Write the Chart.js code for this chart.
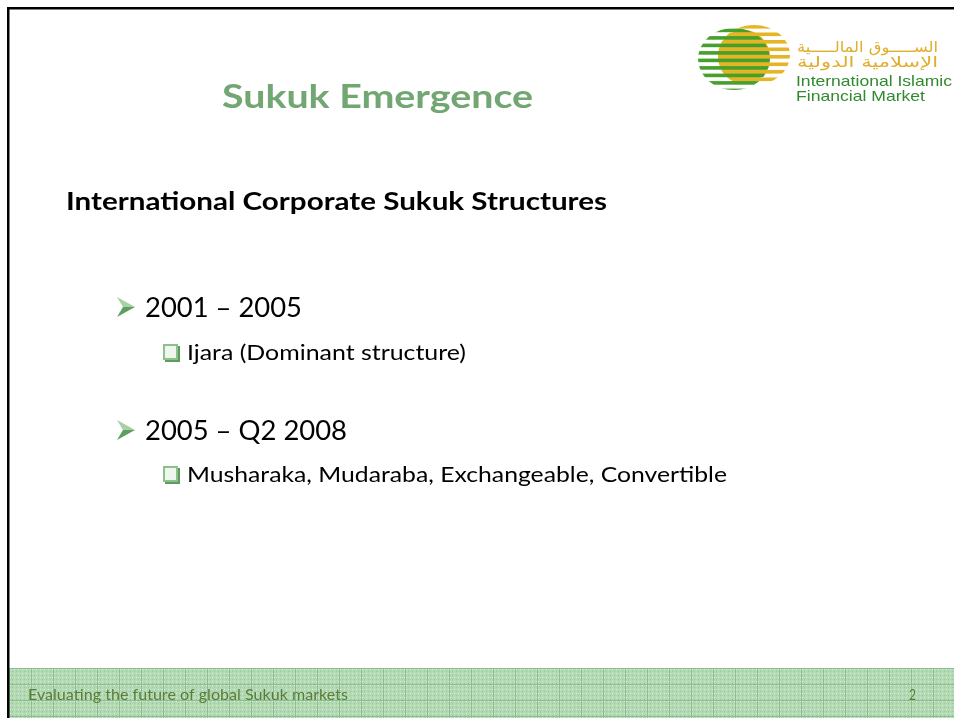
<!DOCTYPE html>
<html>
  <head>
    <meta charset="utf-8">
    <style>
      html, body { margin: 0; padding: 0; background: #fff; }
      canvas { display: block; }
    </style>
  </head>
  <body>
    <canvas id="slideChart" width="954" height="718"></canvas>

    <script src="https://cdn.jsdelivr.net/npm/chart.js@4.4.0/dist/chart.umd.min.js"></script>
    <script>
      // slide content
      var slideTitle = 'Sukuk Emergence';
      var sectionHeading = 'International Corporate Sukuk Structures';
      var periods = ['2001 – 2005', '2005 – Q2 2008'];
      var structures = ['Ijara (Dominant structure)', 'Musharaka, Mudaraba, Exchangeable, Convertible'];
      var logoArabic = ['الســـــوق المالـــــية', 'الإسلامية الدولية'];
      var logoEnglish = ['International Islamic', 'Financial Market'];
      var footerText = 'Evaluating the future of global Sukuk markets';
      var pageNumber = '2';

      var GREEN = '#72a672';

      // draw text squeezed/stretched to a measured width
      function fitText(ctx, text, x, y, w, font, color) {
        ctx.save();
        ctx.font = font;
        ctx.fillStyle = color;
        ctx.textAlign = 'left';
        ctx.textBaseline = 'alphabetic';
        var m = ctx.measureText(text).width;
        ctx.translate(x, y);
        ctx.scale(w / m, 1);
        ctx.fillText(text, 0, 0);
        ctx.restore();
      }

      function arrowBullet(ctx, x, yMid) {
        ctx.save();
        ctx.fillStyle = '#a6d0a6';
        ctx.beginPath();
        ctx.moveTo(x, yMid - 10);
        ctx.lineTo(x + 18, yMid);
        ctx.lineTo(x + 6, yMid);
        ctx.closePath();
        ctx.fill();
        ctx.fillStyle = '#5e9e5e';
        ctx.beginPath();
        ctx.moveTo(x + 6, yMid);
        ctx.lineTo(x + 18, yMid);
        ctx.lineTo(x, yMid + 10);
        ctx.closePath();
        ctx.fill();
        ctx.restore();
      }

      function boxBullet(ctx, x, y) {
        ctx.save();
        ctx.fillStyle = '#5f9a5f';
        ctx.fillRect(x + 2, y + 2, 15, 16);
        ctx.fillStyle = '#8cc08c';
        ctx.fillRect(x, y, 15, 16);
        ctx.fillStyle = '#eef6ee';
        ctx.fillRect(x + 2, y + 2, 11, 12);
        ctx.restore();
      }

      function stripes(ctx, cx, cy, rx, ry, y0, period, h, color) {
        ctx.save();
        ctx.beginPath();
        ctx.ellipse(cx, cy, rx, ry, 0, 0, Math.PI * 2);
        ctx.clip();
        ctx.fillStyle = color;
        for (var y = y0; y < cy + ry; y += period) {
          ctx.fillRect(cx - rx, y, rx * 2, h);
        }
        ctx.restore();
      }

      function drawLogo(ctx) {
        var yellow = '#e6b526', green = '#46a02c';
        stripes(ctx, 754, 55, 36, 30, 25, 7.5, 3.6, yellow);
        ctx.save();
        ctx.fillStyle = yellow;
        ctx.beginPath();
        ctx.ellipse(744, 57, 26, 27, 0, 0, Math.PI * 2);
        ctx.fill();
        ctx.restore();
        stripes(ctx, 734, 59, 36, 31, 28.6, 7.5, 3.6, green);

        fitText(ctx, logoArabic[0], 797, 52, 141, '15px "DejaVu Sans"', '#e0ae2c');
        fitText(ctx, logoArabic[1], 797, 67, 141, '15px "DejaVu Sans"', '#e0ae2c');
        fitText(ctx, logoEnglish[0], 796, 86, 156, '15px "Liberation Sans"', '#2f8a2f');
        fitText(ctx, logoEnglish[1], 796, 101, 129, '15px "Liberation Sans"', '#2f8a2f');
      }

      function footerPattern(ctx) {
        var t = document.createElement('canvas');
        t.width = 22; t.height = 16;
        var c = t.getContext('2d');
        c.fillStyle = '#b3d8b4';
        c.fillRect(0, 0, 22, 16);
        for (var i = 0; i < 22; i += 4) {
          for (var j = 0; j < 16; j += 4) {
            c.fillStyle = '#dcefdc';
            c.fillRect(i + 1, j + 1, 1, 1);
            c.fillStyle = '#95c798';
            c.fillRect(i + 3, j + 3, 1, 1);
          }
        }
        c.fillStyle = '#8bbd8e';
        c.fillRect(0, 0, 22, 1);
        c.fillRect(0, 0, 1, 16);
        return ctx.createPattern(t, 'repeat');
      }

      var slidePlugin = {
        id: 'slide',
        beforeDraw: function (chart) {
          var ctx = chart.ctx;
          ctx.save();
          ctx.fillStyle = '#ffffff';
          ctx.fillRect(0, 0, chart.width, chart.height);

          // footer band
          var pat = footerPattern(ctx);
          ctx.save();
          ctx.translate(9, 668);
          ctx.fillStyle = pat;
          ctx.fillRect(0, 0, 945, 50);
          ctx.restore();
          fitText(ctx, footerText, 28, 700, 320, '15px Lato', '#5b7d3a');
          fitText(ctx, pageNumber, 909, 700, 7, '15px Lato', '#5b7d3a');

          // frame
          ctx.fillStyle = '#000';
          ctx.fillRect(7, 7, 947, 2.5);
          ctx.fillRect(7, 7, 2.5, 711);

          drawLogo(ctx);

          fitText(ctx, slideTitle, 222, 108, 311, 'bold 33px Lato', GREEN);
          fitText(ctx, sectionHeading, 66, 210, 541, 'bold 25px Lato', '#000');

          var periodY = [317, 440];
          var periodW = [157, 202];
          var itemY = [360, 482];
          var itemW = [279, 540];
          for (var i = 0; i < periods.length; i++) {
            arrowBullet(ctx, 117, periodY[i] - 10);
            fitText(ctx, periods[i], 145, periodY[i], periodW[i], '27px Lato', '#000');
            boxBullet(ctx, 163, itemY[i] - 16);
            fitText(ctx, structures[i], 187, itemY[i], itemW[i], '21px Lato', '#000');
          }
          ctx.restore();
        }
      };

      var ctx = document.getElementById('slideChart').getContext('2d');
      var slideChart = new Chart(ctx, {
        type: 'bar',
        data: { labels: [], datasets: [] },
        options: {
          responsive: false,
          animation: false,
          events: [],
          layout: { padding: 0 },
          scales: { x: { display: false }, y: { display: false } },
          plugins: { legend: { display: false }, tooltip: { enabled: false } }
        },
        plugins: [slidePlugin]
      });
    </script>
  </body>
</html>
